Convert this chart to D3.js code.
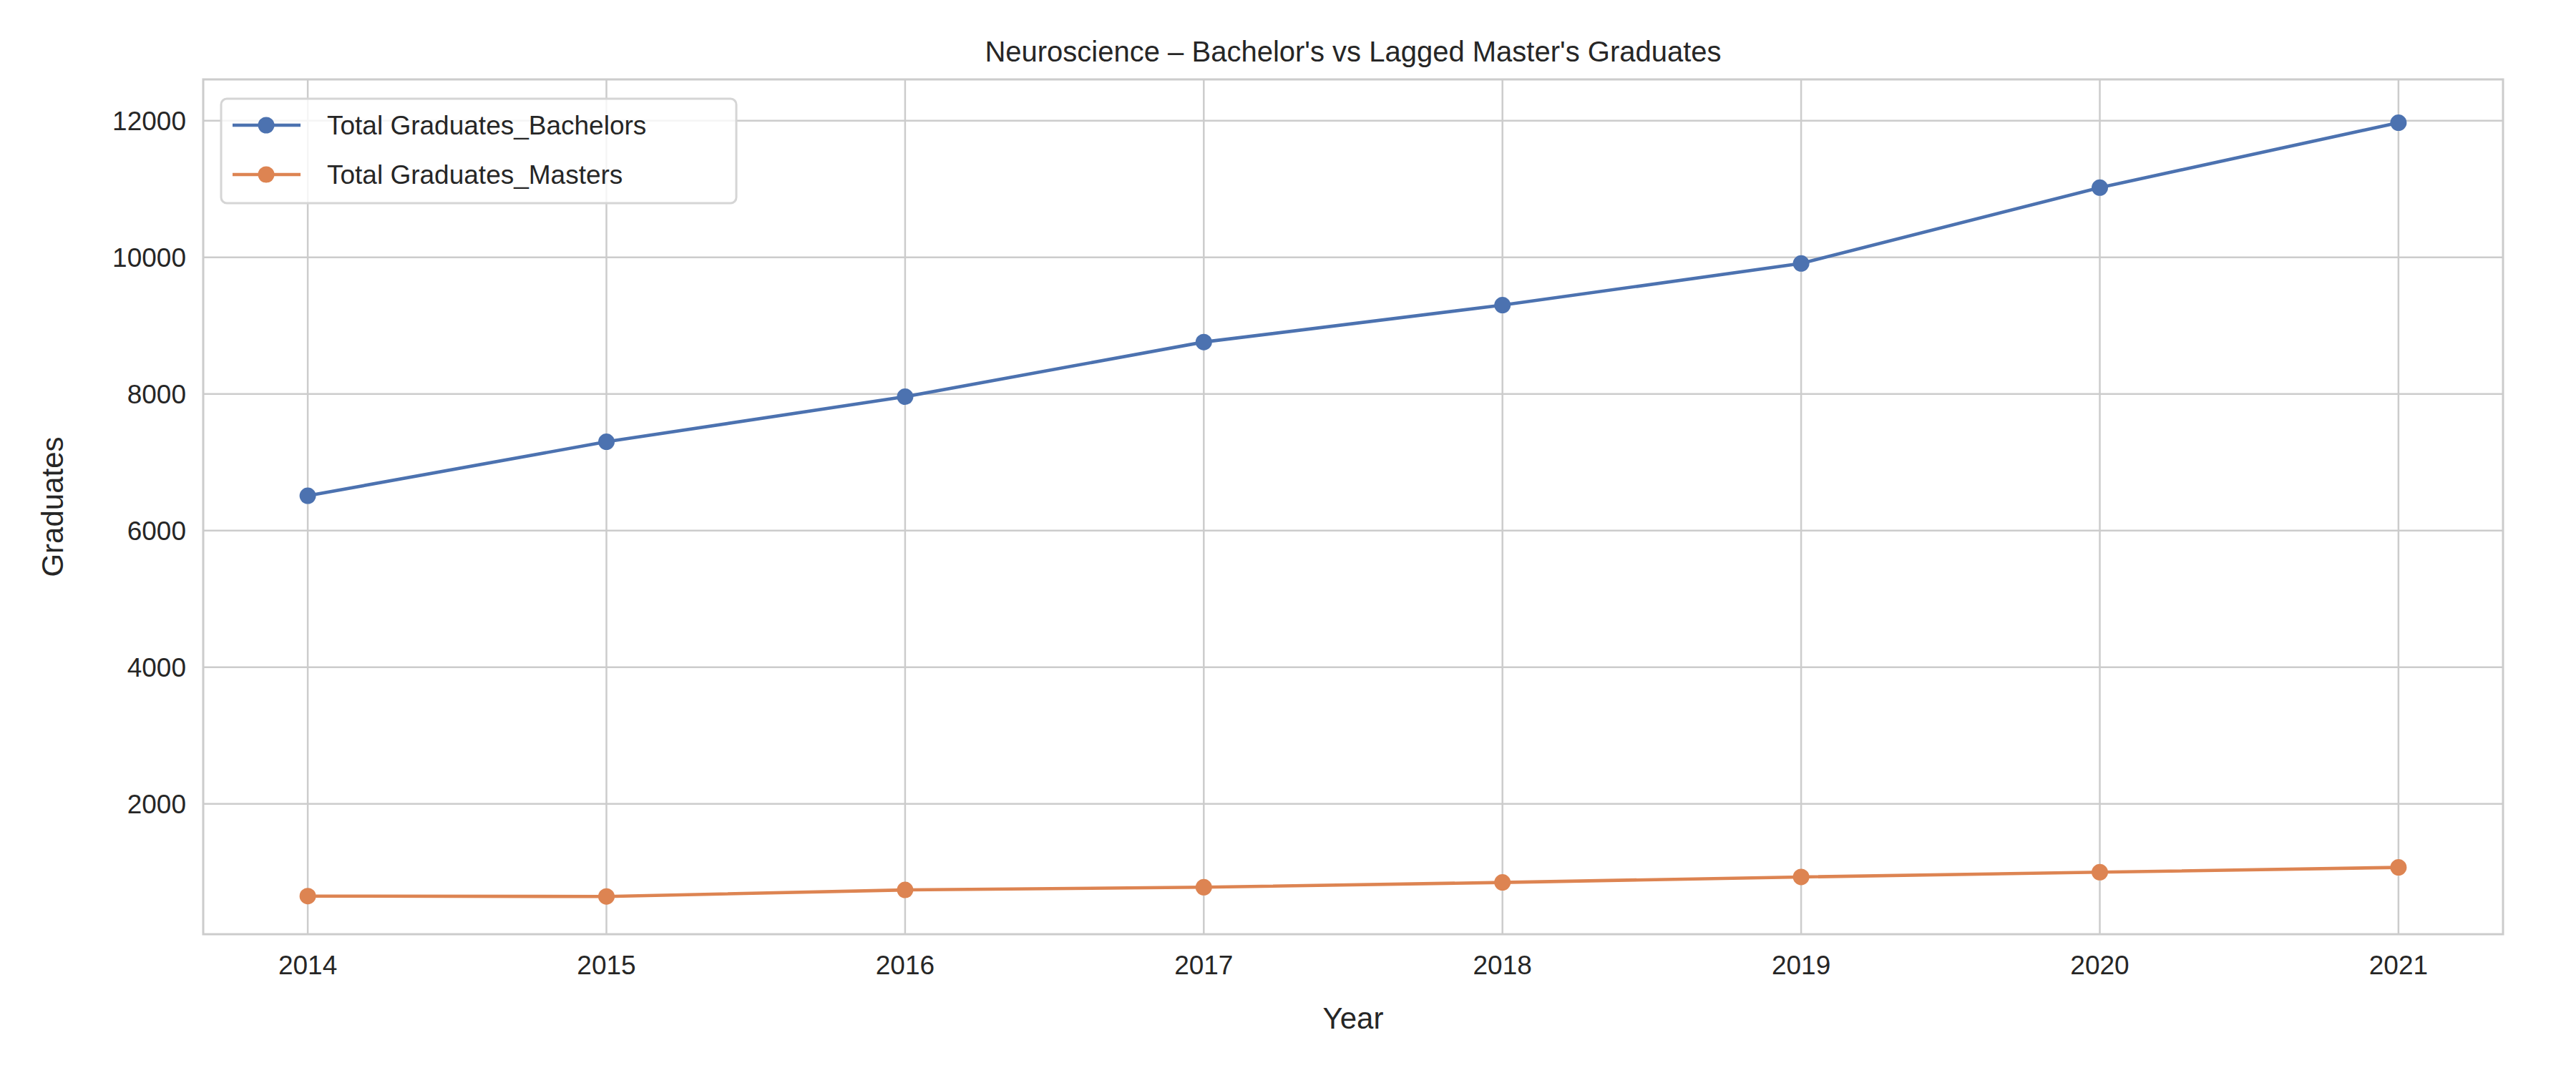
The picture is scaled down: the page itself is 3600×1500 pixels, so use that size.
<!DOCTYPE html>
<html><head><meta charset="utf-8">
<script src="https://cdn.jsdelivr.net/npm/d3@7"></script>
<style>body{margin:0;background:#fff}svg{font-family:Arial,"Liberation Sans",sans-serif}</style>
</head><body><svg id="c" width="3600" height="1500"></svg>
<script>
const years = [2014,2015,2016,2017,2018,2019,2020,2021];
const bachelors = [6510,7300,7960,8760,9300,9910,11020,11970];
const masters = [650,645,740,780,850,930,1000,1070];
const yTicks = [2000,4000,6000,8000,10000,12000];
const seriesNames = ["Total Graduates_Bachelors","Total Graduates_Masters"];
const colors = ["#4c72b0","#dd8452"];

const svg = d3.select("#c");
const L=284,R=3498,T=111,B=1306;
const x = d3.scaleLinear().domain([2013.65,2021.35]).range([L,R]);
const y = d3.scaleLinear().domain([92,12604]).range([B,T]);
const grid="#cccccc";
svg.append("g").selectAll("line").data(years).join("line")
  .attr("x1",d=>x(d)).attr("x2",d=>x(d)).attr("y1",T).attr("y2",B).attr("stroke",grid).attr("stroke-width",2.5);
svg.append("g").selectAll("line").data(yTicks).join("line")
  .attr("y1",d=>y(d)).attr("y2",d=>y(d)).attr("x1",L).attr("x2",R).attr("stroke",grid).attr("stroke-width",2.5);
svg.append("rect").attr("x",L).attr("y",T).attr("width",R-L).attr("height",B-T).attr("fill","none").attr("stroke",grid).attr("stroke-width",3);
svg.append("g").selectAll("text").data(years).join("text")
  .attr("x",d=>x(d)).attr("y",B+56).attr("text-anchor","middle").attr("font-size",37).attr("fill","#262626").text(d=>d);
svg.append("g").selectAll("text").data(yTicks).join("text")
  .attr("x",L-24).attr("y",d=>y(d)+13).attr("text-anchor","end").attr("font-size",37).attr("fill","#262626").text(d=>d);
svg.append("text").attr("x",(L+R)/2).attr("y",86).attr("text-anchor","middle").attr("font-size",40).attr("fill","#262626")
  .text("Neuroscience – Bachelor's vs Lagged Master's Graduates");
svg.append("text").attr("x",(L+R)/2).attr("y",1438).attr("text-anchor","middle").attr("font-size",42).attr("fill","#262626").text("Year");
svg.append("text").attr("transform",`translate(88,${(T+B)/2}) rotate(-90)`).attr("text-anchor","middle").attr("font-size",42).attr("fill","#262626").text("Graduates");
const line=d3.line().x((d,i)=>x(years[i])).y(d=>y(d));
[bachelors,masters].forEach((s,k)=>{
  svg.append("path").attr("d",line(s)).attr("fill","none").attr("stroke",colors[k]).attr("stroke-width",4.6);
  svg.append("g").selectAll("circle").data(s).join("circle").attr("cx",(d,i)=>x(years[i])).attr("cy",d=>y(d)).attr("r",11.5).attr("fill",colors[k]);
});
const lg=svg.append("g");
lg.append("rect").attr("x",309).attr("y",138).attr("width",720).attr("height",146).attr("rx",8).attr("fill","#fff").attr("fill-opacity",0.8).attr("stroke","#d5d5d5").attr("stroke-width",3);
seriesNames.forEach((n,k)=>{
  const cy=175+k*69;
  lg.append("line").attr("x1",325).attr("x2",420).attr("y1",cy).attr("y2",cy).attr("stroke",colors[k]).attr("stroke-width",4.6);
  lg.append("circle").attr("cx",372).attr("cy",cy).attr("r",11.5).attr("fill",colors[k]);
  lg.append("text").attr("x",457).attr("y",cy+13).attr("font-size",37).attr("fill","#262626").text(n);
});
</script></body></html>
